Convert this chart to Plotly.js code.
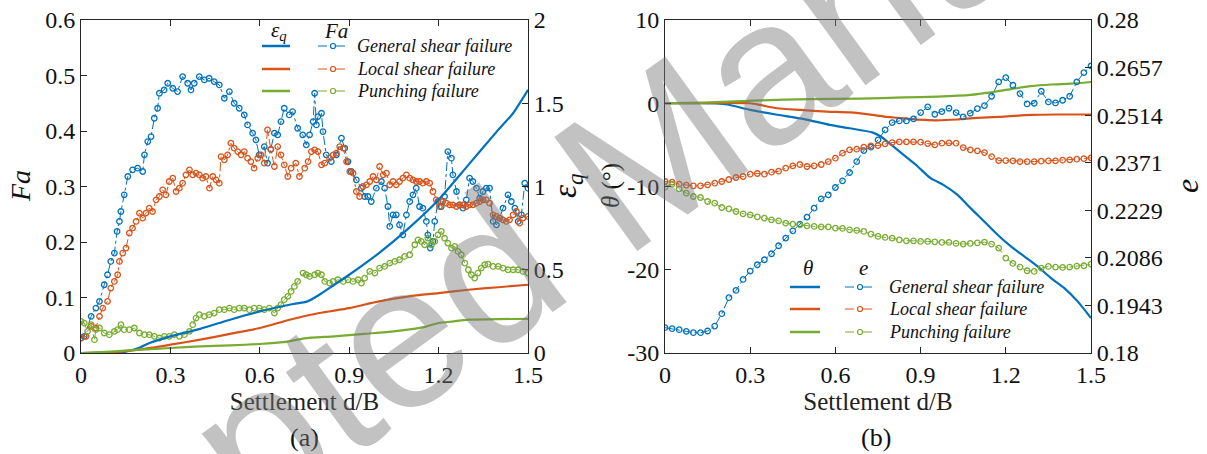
<!DOCTYPE html>
<html>
<head>
<meta charset="utf-8">
<script src="https://cdn.plot.ly/plotly-3.0.1.min.js"></script>
<style>html,body{margin:0;padding:0;background:#fff;}#chart{width:1207px;height:454px;}</style>
</head>
<body>
<div id="chart"></div>
<script>
// ---------------- DATA ----------------
const seriesNames = ["General shear failure", "Local shear failure", "Punching failure"];

// (a) Fa vs settlement
const faGeneralX = [0,0.011,0.034,0.05,0.062,0.078,0.089,0.1,0.112,0.121,0.129,0.134,0.145,0.157,0.173,0.19,0.207,0.213,0.224,0.235,0.246,0.257,0.263,0.279,0.291,0.308,0.324,0.341,0.358,0.369,0.38,0.397,0.414,0.43,0.447,0.464,0.481,0.498,0.514,0.531,0.548,0.559,0.576,0.587,0.598,0.615,0.626,0.637,0.649,0.66,0.671,0.682,0.699,0.71,0.727,0.744,0.756,0.767,0.779,0.784,0.79,0.795,0.807,0.812,0.823,0.84,0.857,0.874,0.885,0.896,0.907,0.924,0.941,0.952,0.963,0.974,0.991,1.008,1.019,1.03,1.036,1.047,1.058,1.069,1.08,1.092,1.103,1.114,1.125,1.136,1.147,1.159,1.164,1.172,1.181,1.187,1.198,1.209,1.22,1.231,1.243,1.248,1.26,1.27,1.282,1.293,1.304,1.315,1.327,1.338,1.349,1.36,1.371,1.383,1.394,1.405,1.416,1.433,1.444,1.456,1.467,1.478,1.489,1.5];
const faGeneral = [0.027,0.03,0.066,0.081,0.093,0.123,0.141,0.165,0.18,0.219,0.237,0.255,0.285,0.318,0.33,0.333,0.327,0.357,0.381,0.39,0.423,0.441,0.468,0.474,0.486,0.477,0.471,0.498,0.486,0.474,0.486,0.498,0.492,0.495,0.489,0.483,0.459,0.471,0.45,0.441,0.429,0.411,0.396,0.384,0.357,0.372,0.342,0.367,0.396,0.393,0.417,0.441,0.429,0.435,0.405,0.393,0.375,0.393,0.417,0.468,0.411,0.426,0.432,0.399,0.357,0.345,0.357,0.387,0.369,0.345,0.327,0.312,0.297,0.282,0.282,0.273,0.297,0.309,0.297,0.264,0.228,0.249,0.249,0.231,0.213,0.249,0.273,0.285,0.297,0.264,0.261,0.237,0.213,0.189,0.201,0.237,0.273,0.264,0.282,0.363,0.351,0.321,0.291,0.267,0.261,0.276,0.315,0.309,0.297,0.279,0.291,0.297,0.297,0.237,0.231,0.243,0.261,0.285,0.273,0.261,0.237,0.249,0.306,0.297];

const faLocalX = [0,0.017,0.034,0.05,0.062,0.073,0.089,0.1,0.112,0.123,0.129,0.14,0.151,0.162,0.173,0.185,0.196,0.207,0.218,0.229,0.24,0.252,0.263,0.274,0.285,0.296,0.308,0.319,0.33,0.341,0.352,0.364,0.375,0.386,0.397,0.408,0.419,0.431,0.442,0.453,0.464,0.47,0.481,0.492,0.503,0.514,0.526,0.537,0.548,0.559,0.57,0.581,0.593,0.604,0.615,0.626,0.637,0.649,0.66,0.671,0.682,0.694,0.705,0.721,0.733,0.751,0.762,0.773,0.784,0.795,0.807,0.818,0.834,0.846,0.857,0.868,0.88,0.891,0.902,0.913,0.924,0.935,0.946,0.958,0.969,0.98,0.991,1.002,1.014,1.025,1.036,1.047,1.058,1.069,1.08,1.092,1.103,1.114,1.125,1.136,1.147,1.159,1.17,1.181,1.192,1.203,1.214,1.226,1.237,1.248,1.26,1.27,1.282,1.293,1.304,1.315,1.327,1.338,1.349,1.36,1.371,1.383,1.394,1.405,1.416,1.427,1.438,1.45,1.461,1.472,1.483,1.5];
const faLocal = [0.027,0.03,0.048,0.045,0.066,0.081,0.093,0.117,0.129,0.141,0.165,0.18,0.189,0.216,0.225,0.237,0.252,0.243,0.252,0.261,0.255,0.276,0.282,0.294,0.285,0.309,0.315,0.291,0.297,0.306,0.321,0.33,0.321,0.324,0.321,0.315,0.318,0.297,0.318,0.312,0.306,0.354,0.348,0.357,0.378,0.369,0.363,0.357,0.363,0.351,0.345,0.333,0.351,0.357,0.342,0.402,0.367,0.336,0.372,0.357,0.339,0.318,0.333,0.342,0.318,0.333,0.345,0.363,0.366,0.363,0.339,0.342,0.351,0.357,0.36,0.372,0.369,0.345,0.327,0.324,0.291,0.282,0.3,0.303,0.309,0.318,0.312,0.336,0.321,0.324,0.303,0.309,0.303,0.309,0.315,0.321,0.315,0.312,0.309,0.309,0.306,0.309,0.306,0.291,0.276,0.264,0.273,0.27,0.267,0.267,0.264,0.267,0.267,0.264,0.267,0.267,0.27,0.273,0.276,0.276,0.27,0.249,0.246,0.243,0.24,0.237,0.24,0.249,0.255,0.234,0.243,0.246];

const faPunchX = [0,0.011,0.022,0.034,0.045,0.05,0.062,0.078,0.095,0.112,0.123,0.134,0.145,0.162,0.179,0.196,0.213,0.229,0.246,0.263,0.28,0.296,0.313,0.33,0.347,0.364,0.375,0.386,0.397,0.414,0.43,0.447,0.464,0.481,0.498,0.514,0.531,0.548,0.565,0.581,0.598,0.615,0.632,0.649,0.66,0.671,0.682,0.694,0.705,0.716,0.727,0.745,0.756,0.767,0.784,0.795,0.807,0.818,0.834,0.846,0.862,0.88,0.896,0.913,0.93,0.941,0.952,0.969,0.986,1.002,1.019,1.036,1.053,1.069,1.086,1.103,1.12,1.131,1.142,1.153,1.164,1.176,1.187,1.198,1.209,1.22,1.231,1.243,1.254,1.265,1.276,1.288,1.3,1.31,1.321,1.332,1.343,1.355,1.366,1.383,1.4,1.416,1.433,1.45,1.467,1.483,1.5];
const faPunch = [0.057,0.054,0.039,0.051,0.024,0.042,0.045,0.036,0.033,0.039,0.042,0.051,0.042,0.042,0.045,0.036,0.033,0.033,0.03,0.027,0.03,0.03,0.033,0.03,0.033,0.039,0.051,0.063,0.069,0.066,0.069,0.072,0.078,0.078,0.081,0.078,0.081,0.081,0.078,0.081,0.081,0.078,0.081,0.072,0.081,0.087,0.096,0.102,0.111,0.12,0.129,0.144,0.141,0.138,0.141,0.144,0.141,0.129,0.126,0.129,0.132,0.129,0.132,0.129,0.132,0.126,0.135,0.147,0.144,0.153,0.156,0.162,0.165,0.168,0.174,0.177,0.195,0.204,0.201,0.195,0.207,0.195,0.201,0.213,0.219,0.207,0.198,0.189,0.192,0.183,0.177,0.162,0.15,0.141,0.135,0.144,0.153,0.159,0.16,0.156,0.156,0.153,0.15,0.15,0.15,0.147,0.144];

// (a) eps_q vs settlement
const epsGeneralX = [0,0.1,0.15,0.2,0.23,0.3,0.4,0.5,0.6,0.7,0.76,0.8,0.85,0.9,1.0,1.1,1.2,1.3,1.4,1.45,1.5];
const epsGeneral  = [0,0.002,0.008,0.035,0.06,0.1,0.145,0.2,0.25,0.29,0.31,0.35,0.41,0.47,0.6,0.75,0.92,1.13,1.34,1.44,1.58];
const epsLocalX = [0,0.1,0.2,0.3,0.4,0.5,0.6,0.7,0.8,0.9,1.0,1.1,1.2,1.3,1.4,1.5];
const epsLocal  = [0,0.004,0.022,0.05,0.08,0.115,0.15,0.2,0.24,0.27,0.31,0.34,0.36,0.38,0.395,0.41];
const epsPunchX = [0,0.1,0.2,0.3,0.4,0.5,0.6,0.68,0.75,0.85,0.95,1.05,1.15,1.2,1.25,1.3,1.4,1.5];
const epsPunch  = [0,0.008,0.02,0.03,0.04,0.046,0.054,0.065,0.088,0.1,0.115,0.13,0.155,0.18,0.19,0.2,0.204,0.205];

// (b) theta vs settlement
const thGeneralX = [0,0.1,0.18,0.22,0.3,0.39,0.49,0.58,0.65,0.73,0.76,0.79,0.84,0.89,0.935,0.98,1.03,1.076,1.124,1.171,1.218,1.265,1.312,1.359,1.406,1.453,1.5];
const thGeneral  = [0,0,-0.02,-0.15,-0.8,-1.35,-1.9,-2.6,-3.0,-3.5,-4.0,-4.8,-6.2,-7.6,-9.0,-9.8,-11.0,-12.6,-14.2,-15.8,-17.2,-18.4,-19.6,-21.0,-22.2,-23.8,-25.8];
const thLocalX = [0,0.3,0.335,0.394,0.476,0.57,0.653,0.73,0.771,0.818,0.865,0.912,0.959,1.029,1.1,1.194,1.288,1.382,1.5];
const thLocal  = [0,0,-0.2,-0.6,-0.8,-1.0,-1.1,-1.4,-1.6,-1.75,-1.9,-2.0,-2.05,-1.95,-1.75,-1.6,-1.4,-1.35,-1.35];
const thPunchX = [0,0.159,0.335,0.512,0.688,0.841,0.959,1.076,1.147,1.218,1.288,1.359,1.429,1.5];
const thPunch  = [0,0.1,0.35,0.5,0.55,0.7,0.8,1.0,1.3,1.7,2.05,2.25,2.35,2.55];

// (b) void ratio e vs settlement
const eX = [0,0.025,0.05,0.075,0.1,0.125,0.15,0.175,0.2,0.225,0.25,0.275,0.3,0.325,0.35,0.375,0.4,0.425,0.45,0.475,0.5,0.525,0.55,0.575,0.6,0.625,0.65,0.675,0.7,0.725,0.75,0.775,0.8,0.825,0.85,0.875,0.9,0.925,0.95,0.975,1.0,1.025,1.05,1.075,1.1,1.125,1.15,1.175,1.2,1.225,1.25,1.275,1.3,1.325,1.35,1.375,1.4,1.425,1.45,1.475,1.5];
const eGeneral = [0.1876,0.1873,0.187,0.1865,0.1861,0.1861,0.1866,0.1881,0.1918,0.1966,0.1988,0.2021,0.2046,0.2065,0.208,0.2098,0.2122,0.2145,0.2167,0.2187,0.2208,0.2235,0.2263,0.2275,0.2297,0.2317,0.2342,0.2375,0.2408,0.2418,0.244,0.247,0.2492,0.2497,0.2497,0.2503,0.2522,0.2539,0.2517,0.2525,0.2535,0.2522,0.2509,0.252,0.2534,0.2543,0.2571,0.2614,0.2627,0.2604,0.2579,0.2548,0.255,0.2586,0.2554,0.2551,0.2559,0.2571,0.2614,0.2642,0.2662];
const eLocal = [0.2315,0.2313,0.2307,0.2304,0.2302,0.2302,0.2305,0.231,0.2315,0.2321,0.2327,0.233,0.2337,0.2339,0.2337,0.2343,0.2346,0.2355,0.2362,0.2366,0.236,0.2362,0.2366,0.2375,0.2385,0.24,0.241,0.2412,0.2418,0.2422,0.2423,0.2428,0.2432,0.2434,0.2434,0.2434,0.2433,0.2429,0.2425,0.243,0.2431,0.243,0.2417,0.241,0.2407,0.2402,0.239,0.2378,0.2378,0.2377,0.2375,0.2375,0.2375,0.2376,0.2377,0.2377,0.2379,0.238,0.2382,0.2384,0.2386];
const ePunch = [0.2298,0.2307,0.2293,0.228,0.227,0.2267,0.2255,0.225,0.2237,0.2233,0.2225,0.2218,0.2215,0.2209,0.2205,0.22,0.2197,0.219,0.2187,0.2185,0.2182,0.218,0.2179,0.2179,0.2175,0.2174,0.217,0.2168,0.2165,0.2157,0.215,0.2147,0.2145,0.214,0.2137,0.2137,0.2135,0.2135,0.2134,0.2132,0.2132,0.2129,0.2127,0.2129,0.2131,0.2133,0.2127,0.2115,0.2085,0.2069,0.2058,0.2047,0.2045,0.2055,0.206,0.2058,0.2057,0.2058,0.2061,0.2062,0.2067];

// tick labels
const xTickVals = [0,0.3,0.6,0.9,1.2,1.5];
const xTickText = ["0","0.3","0.6","0.9","1.2","1.5"];
const faTickVals = [0,0.1,0.2,0.3,0.4,0.5,0.6];
const faTickText = ["0","0.1","0.2","0.3","0.4","0.5","0.6"];
const epsTickVals = [0,0.5,1,1.5,2];
const epsTickText = ["0","0.5","1","1.5","2"];
const thTickVals = [-30,-20,-10,0,10];
const thTickText = ["-30","-20","-10","0","10"];
const eTickVals = [0.18,0.1943,0.2086,0.2229,0.2371,0.2514,0.2657,0.28];
const eTickText = ["0.18","0.1943","0.2086","0.2229","0.2371","0.2514","0.2657","0.28"];

// ---------------- STYLE ----------------
const colors = ["#0072BD", "#D95319", "#77AC30"];
const FONT = "Liberation Serif";
const AX = "#262626";

function markerTrace(x, y, c, xa, ya, name) {
  return {x: x, y: y, xaxis: xa, yaxis: ya, type: "scatter", mode: "lines+markers", name: name,
    line: {color: c, width: 1, dash: "dashdot"},
    marker: {symbol: "circle-open", size: 5.5, color: c, line: {width: 1.3, color: c}},
    showlegend: false, hoverinfo: "skip"};
}
function lineTrace(x, y, c, xa, ya, name) {
  return {x: x, y: y, xaxis: xa, yaxis: ya, type: "scatter", mode: "lines", name: name,
    line: {color: c, width: 2.2, shape: "spline", smoothing: 0.6}, showlegend: false, hoverinfo: "skip"};
}

const data = [
  lineTrace(epsGeneralX, epsGeneral, colors[0], "x", "y2", seriesNames[0]),
  lineTrace(epsLocalX, epsLocal, colors[1], "x", "y2", seriesNames[1]),
  lineTrace(epsPunchX, epsPunch, colors[2], "x", "y2", seriesNames[2]),
  markerTrace(faGeneralX, faGeneral, colors[0], "x", "y", seriesNames[0]),
  markerTrace(faLocalX, faLocal, colors[1], "x", "y", seriesNames[1]),
  markerTrace(faPunchX, faPunch, colors[2], "x", "y", seriesNames[2]),
  lineTrace(thGeneralX, thGeneral, colors[0], "x2", "y3", seriesNames[0]),
  lineTrace(thLocalX, thLocal, colors[1], "x2", "y3", seriesNames[1]),
  lineTrace(thPunchX, thPunch, colors[2], "x2", "y3", seriesNames[2]),
  markerTrace(eX, eGeneral, colors[0], "x2", "y4", seriesNames[0]),
  markerTrace(eX, eLocal, colors[1], "x2", "y4", seriesNames[1]),
  markerTrace(eX, ePunch, colors[2], "x2", "y4", seriesNames[2])
];

// page geometry (pixels)
const W = 1207, H = 454, ML = 81, MR = 116, MT = 20, MB = 101;
const PW = W - ML - MR, PH = H - MT - MB;
const px = v => (v - ML) / PW;
const py = v => (H - MB - v) / PH;

const tickFont = {family: FONT, size: 24, color: "#111"};
function baseAxis(extra) {
  return Object.assign({showline: true, linecolor: AX, linewidth: 1, ticks: "inside", ticklen: 6,
    tickcolor: AX, showgrid: false, zeroline: false, tickfont: tickFont, fixedrange: true}, extra);
}

const layout = {
  width: W, height: H,
  margin: {l: ML, r: MR, t: MT, b: MB},
  paper_bgcolor: "#fff", plot_bgcolor: "rgba(0,0,0,0)",
  showlegend: false,
  font: {family: FONT, color: "#111"},
  xaxis: baseAxis({domain: [0, px(528)], range: [0, 1.5], tickvals: xTickVals, ticktext: xTickText,
    anchor: "y", mirror: "ticks",
    title: {text: "Settlement d/B", font: {family: FONT, size: 25, color: "#222"}, standoff: 2}}),
  yaxis: baseAxis({domain: [0, 1], range: [0, 0.6], tickvals: faTickVals, ticktext: faTickText, anchor: "x"}),
  yaxis2: baseAxis({overlaying: "y", side: "right", anchor: "x", range: [0, 2], tickvals: epsTickVals, ticktext: epsTickText}),
  xaxis2: baseAxis({domain: [px(665), 1], range: [0, 1.5], tickvals: xTickVals, ticktext: xTickText,
    anchor: "y3", mirror: "ticks",
    title: {text: "Settlement d/B", font: {family: FONT, size: 25, color: "#222"}, standoff: 2}}),
  yaxis3: baseAxis({domain: [0, 1], range: [-30, 10], tickvals: thTickVals, ticktext: thTickText, anchor: "x2"}),
  yaxis4: baseAxis({overlaying: "y3", side: "right", anchor: "x2", range: [0.18, 0.28], tickvals: eTickVals, ticktext: eTickText}),
  shapes: [],
  annotations: []
};

const ann = layout.annotations, shp = layout.shapes;
function txt(text, x, y, size, opts) {
  ann.push(Object.assign({text: text, x: px(x), y: py(y), xref: "paper", yref: "paper", showarrow: false,
    font: {family: FONT, size: size, color: "#111"}, xanchor: "center", yanchor: "middle"}, opts || {}));
}
// axis titles
txt("<i>Fa</i>", 20, 186, 28, {textangle: -90});
txt("<i>ε<sub>q</sub></i>", 567, 186, 33, {textangle: -90});
txt("<i>θ</i> (°)", 611, 186, 25, {textangle: -90});
txt("<i>e</i>", 1187, 186, 32, {textangle: -90});
txt("(a)", 304, 438, 26);
txt("(b)", 876, 438, 26);

// custom legends (two columns: solid line / dash-dot with marker)
function legend(x1, x2, headers, hy, rows, tx) {
  txt(headers[0], (x1[0] + x1[1]) / 2 + 3, hy, 21);
  txt(headers[1], (x2[0] + x2[1]) / 2 + 3, hy, 21);
  rows.forEach((ry, i) => {
    const c = colors[i];
    shp.push({type: "line", xref: "paper", yref: "paper", x0: px(x1[0]), x1: px(x1[1]), y0: py(ry), y1: py(ry),
      line: {color: c, width: 2.5}});
    shp.push({type: "line", xref: "paper", yref: "paper", x0: px(x2[0]), x1: px(x2[1]), y0: py(ry), y1: py(ry),
      line: {color: c, width: 1, dash: "dashdot"}});
    const cx = (x2[0] + x2[1]) / 2;
    shp.push({type: "circle", xref: "paper", yref: "paper", x0: px(cx - 2.5), x1: px(cx + 2.5), y0: py(ry + 2.5), y1: py(ry - 2.5),
      line: {color: c, width: 1.2}, fillcolor: "#fff"});
    txt("<i>" + seriesNames[i] + "</i>", tx, ry, 18, {xanchor: "left"});
  });
}
legend([262, 290], [318, 348], ["<i>ε<sub>q</sub></i>", "<i>Fa</i>"], 31, [46, 69, 91], 355);
legend([790, 820], [845, 875], ["<i>θ</i>", "<i>e</i>"], 268, [287, 309, 332], 887);

// watermark
ann.push({text: "Accepted Manuscript", x: px(618), y: py(176), xref: "paper", yref: "paper", showarrow: false,
  textangle: -36, font: {family: "Liberation Sans", size: 205, color: "rgba(120,120,120,0.45)"},
  xanchor: "center", yanchor: "middle"});

Plotly.newPlot("chart", data, layout, {staticPlot: true, displayModeBar: false});
</script>
</body>
</html>
